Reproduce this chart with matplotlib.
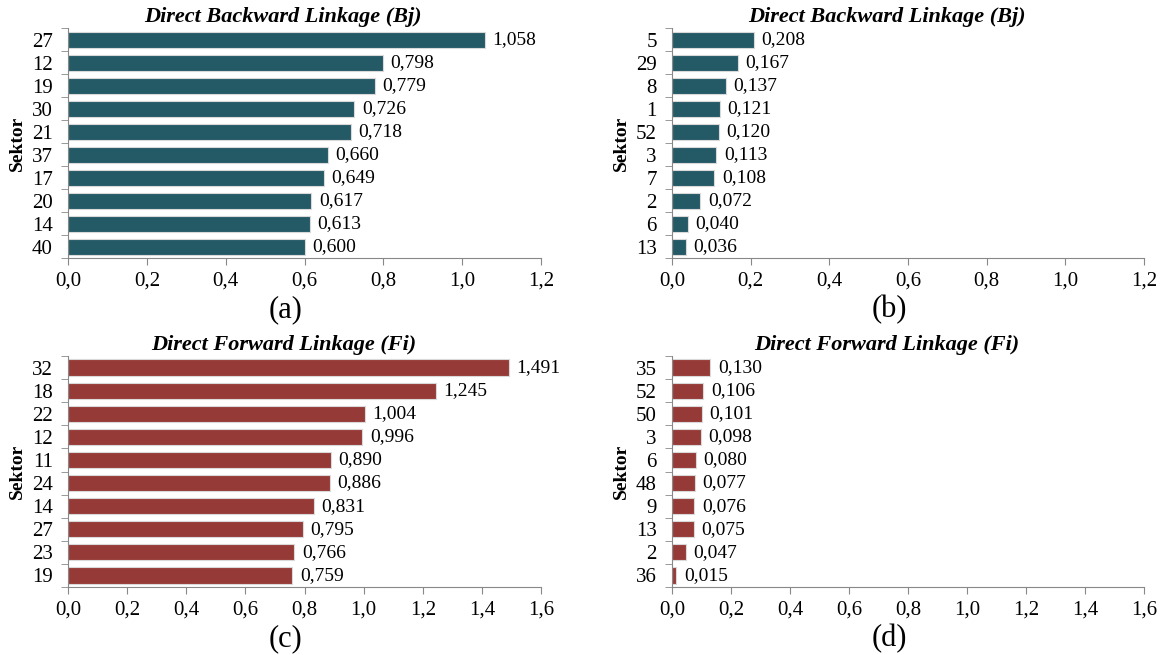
import numpy as np
import matplotlib.pyplot as plt

plt.rcParams['font.family'] = ['Liberation Serif', 'DejaVu Serif']

# (a) Direct Backward Linkage - top sectors
bj_top_sectors = ['27', '12', '19', '30', '21', '37', '17', '20', '14', '40']
bj_top_values = [1.058, 0.798, 0.779, 0.726, 0.718, 0.660, 0.649, 0.617, 0.613, 0.600]
# (b) Direct Backward Linkage - bottom sectors
bj_low_sectors = ['5', '29', '8', '1', '52', '3', '7', '2', '6', '13']
bj_low_values = [0.208, 0.167, 0.137, 0.121, 0.120, 0.113, 0.108, 0.072, 0.040, 0.036]
# (c) Direct Forward Linkage - top sectors
fi_top_sectors = ['32', '18', '22', '12', '11', '24', '14', '27', '23', '19']
fi_top_values = [1.491, 1.245, 1.004, 0.996, 0.890, 0.886, 0.831, 0.795, 0.766, 0.759]
# (d) Direct Forward Linkage - bottom sectors
fi_low_sectors = ['35', '52', '50', '3', '6', '48', '9', '13', '2', '36']
fi_low_values = [0.130, 0.106, 0.101, 0.098, 0.080, 0.077, 0.076, 0.075, 0.047, 0.015]

teal = '#245a66'
red = '#963a37'


def comma(v, nd):
    return f"{v:.{nd}f}".replace('.', ',')


def panel(ax, sectors, values, color, xmax, title, tag):
    y = np.arange(len(sectors))
    ax.barh(y, values, height=0.7, color=color, edgecolor='#d9d9d9', linewidth=0.8)
    for yi, v in zip(y, values):
        ax.text(v + xmax * 0.016, yi, comma(v, 3), va='center', ha='left', fontsize=14)
    ax.set_ylim(len(sectors) - 0.5, -0.5)
    ax.set_xlim(0, xmax)
    ax.set_yticks(y)
    ax.set_yticklabels(sectors, fontsize=15)
    ax.set_yticks(np.arange(len(sectors) + 1) - 0.5, minor=True)
    ax.tick_params(axis='y', which='major', length=0, pad=11)
    ax.tick_params(axis='y', which='minor', length=5, color='#888888')
    xt = np.arange(0, xmax + 1e-9, 0.2)
    ax.set_xticks(xt)
    ax.set_xticklabels([comma(t, 1) for t in xt], fontsize=15)
    ax.tick_params(axis='x', length=5, color='#888888', pad=5)
    for s in ['top', 'right']:
        ax.spines[s].set_visible(False)
    for s in ['left', 'bottom']:
        ax.spines[s].set_color('#888888')
    ax.set_ylabel('Sektor', fontsize=14, fontweight='bold', labelpad=4)
    # titles and panel tags sit centred over the whole chart area, a bit left of the plot
    ax.text(0.455, 1.005, title, transform=ax.transAxes, ha='center', va='bottom',
            fontsize=16, fontweight='bold', style='italic')
    ax.text(0.46, -0.225, tag, transform=ax.transAxes, ha='center', va='center', fontsize=22)


fig = plt.figure(figsize=(11.61, 6.55), dpi=100)
ax_a = fig.add_axes([0.0586, 0.606, 0.4074, 0.351])
ax_b = fig.add_axes([0.5788, 0.606, 0.4066, 0.351])
ax_c = fig.add_axes([0.0586, 0.1038, 0.4074, 0.3527])
ax_d = fig.add_axes([0.5788, 0.1038, 0.4066, 0.3527])

panel(ax_a, bj_top_sectors, bj_top_values, teal, 1.2, 'Direct Backward Linkage (Bj)', '(a)')
panel(ax_b, bj_low_sectors, bj_low_values, teal, 1.2, 'Direct Backward Linkage (Bj)', '(b)')
panel(ax_c, fi_top_sectors, fi_top_values, red, 1.6, 'Direct Forward Linkage (Fi)', '(c)')
panel(ax_d, fi_low_sectors, fi_low_values, red, 1.6, 'Direct Forward Linkage (Fi)', '(d)')

fig.savefig('out.png', dpi=100)
